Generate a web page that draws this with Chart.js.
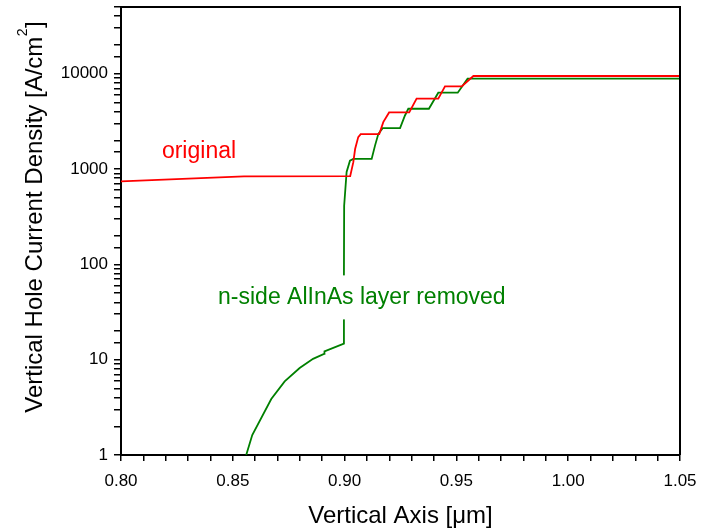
<!DOCTYPE html>
<html>
<head>
<meta charset="utf-8">
<script src="https://cdn.jsdelivr.net/npm/chart.js@4.4.1/dist/chart.umd.min.js"></script>
<style>
  html, body { margin: 0; padding: 0; background: #fff; }
  #wrap { width: 708px; height: 531px; }
</style>
</head>
<body>
<div id="wrap"><canvas id="chart" width="708" height="531"></canvas></div>
<script>
// ─── DATA ──────────────────────────────────────────────────────────
const originalX = [0.800, 0.855, 0.9025, 0.9039, 0.9047, 0.9061, 0.9072, 0.9155, 0.9173, 0.9199,
                   0.9289, 0.9322, 0.9419, 0.9449, 0.9524, 0.9576, 1.050];
const originalY = [743, 838, 842, 1180, 1620, 2160, 2320, 2320, 3100, 3920,
                   3920, 5460, 5460, 7350, 7350, 9450, 9450];

const removedX = [0.8560, 0.8587, 0.8672, 0.8732, 0.8799, 0.8859, 0.8908, 0.8910, 0.8997, 0.8997,
                  0.8998, 0.9009, 0.9024, 0.9039, 0.9121, 0.9136, 0.9151, 0.9170, 0.9248, 0.9270,
                  0.9285, 0.9377, 0.9419, 0.9506, 0.9550, 1.050];
const removedY = [1, 1.62, 3.86, 5.91, 8.18, 10.2, 11.5, 12.2, 14.7, 75,
                  411, 929, 1223, 1274, 1274, 1758, 2336, 2680, 2680, 3640,
                  4285, 4285, 6310, 6310, 8860, 8860];

const xTickLabels = [0.80, 0.85, 0.90, 0.95, 1.00, 1.05];
const yTickLabels = [1, 10, 100, 1000, 10000];

// in-plot labels, anchored in data coordinates (left edge, vertical middle)
const noteText  = ['original', 'n-side AlInAs layer removed'];
const noteX     = [0.8183, 0.8434];
const noteY     = [1510, 45];
const noteColor = ['#ff0000', '#008000'];

const FONT = "'Liberation Sans', Arial, sans-serif";
Chart.defaults.font.family = FONT;
Chart.defaults.color = '#000';

function toPoints(xs, ys) {
    return xs.map((x, i) => ({ x: x, y: ys[i] }));
}

// ─── PLUGINS ──────────────────────────────────────────────────────
const framePlugin = {
    id: 'frame',
    afterDatasetsDraw(chart) {
        const { ctx, chartArea: a } = chart;
        ctx.save();
        ctx.strokeStyle = '#000';
        ctx.lineWidth = 2;
        ctx.beginPath();
        ctx.moveTo(a.left, a.top);
        ctx.lineTo(a.right, a.top);
        ctx.lineTo(a.right, a.bottom);
        ctx.stroke();
        ctx.restore();
    }
};

const notesPlugin = {
    id: 'notes',
    afterDatasetsDraw(chart) {
        const { ctx } = chart;
        const xs = chart.scales.x, ys = chart.scales.y;
        ctx.save();
        ctx.font = '23px ' + FONT;
        ctx.textBaseline = 'middle';
        ctx.textAlign = 'left';
        noteText.forEach((t, i) => {
            const px = xs.getPixelForValue(noteX[i]);
            const py = ys.getPixelForValue(noteY[i]);
            if (i === 1) {
                // label sits on a white box that hides the curve behind it
                const w = ctx.measureText(t).width;
                ctx.fillStyle = '#fff';
                ctx.fillRect(px - 2, py - 22, w + 4, 44);
            }
            ctx.fillStyle = noteColor[i];
            ctx.fillText(t, px, py);
        });
        ctx.restore();
    }
};

const yTitlePlugin = {
    id: 'yTitle',
    afterDraw(chart) {
        const { ctx } = chart;
        const main = 'Vertical Hole Current Density [A/cm';
        ctx.save();
        ctx.fillStyle = '#000';
        ctx.textBaseline = 'alphabetic';
        ctx.textAlign = 'left';
        ctx.font = '24px ' + FONT;
        const w1 = ctx.measureText(main).width;
        ctx.font = '14px ' + FONT;
        const w2 = ctx.measureText('2').width;
        ctx.font = '24px ' + FONT;
        const w3 = ctx.measureText(']').width;
        const total = w1 + w2 + 1 + w3;
        ctx.translate(42, 217 + total / 2);
        ctx.rotate(-Math.PI / 2);
        ctx.fillText(main, 0, 0);
        ctx.font = '14px ' + FONT;
        ctx.fillText('2', w1 + 0.5, -15);
        ctx.font = '24px ' + FONT;
        ctx.fillText(']', w1 + w2 + 1, 0);
        ctx.restore();
    }
};

// ─── CHART ────────────────────────────────────────────────────────
new Chart(document.getElementById('chart'), {
    type: 'line',
    data: {
        datasets: [
            {
                label: 'original',
                data: toPoints(originalX, originalY),
                borderColor: '#ff0000',
                borderWidth: 1.8,
                pointRadius: 0,
                tension: 0
            },
            {
                label: 'n-side AlInAs layer removed',
                data: toPoints(removedX, removedY),
                borderColor: '#008000',
                borderWidth: 1.8,
                pointRadius: 0,
                tension: 0
            }
        ]
    },
    options: {
        responsive: false,
        animation: false,
        layout: { padding: { left: 0, top: 7, right: 28, bottom: 0 } },
        plugins: {
            legend: { display: false },
            tooltip: { enabled: false }
        },
        scales: {
            x: {
                type: 'linear',
                min: 0.80,
                max: 1.05,
                afterFit: s => { s.height = 76; s.paddingLeft = 0; s.paddingRight = 0; },
                grid: { drawOnChartArea: false, tickLength: 6, color: '#000', lineWidth: 1.5 },
                border: { color: '#000', width: 2 },
                ticks: {
                    stepSize: 0.01,
                    autoSkip: false,
                    maxRotation: 0,
                    padding: 10,
                    font: { size: 17 },
                    color: '#000',
                    callback: v => xTickLabels.some(t => Math.abs(t - v) < 1e-6) ? v.toFixed(2) : ''
                },
                title: {
                    display: true,
                    text: 'Vertical Axis [\u03bcm]',
                    font: { size: 24 },
                    color: '#000',
                    padding: { top: 0, bottom: 0 }
                }
            },
            y: {
                type: 'logarithmic',
                min: 1,
                max: 50000,
                afterFit: s => { s.width = 121; s.paddingTop = 0; s.paddingBottom = 0; },
                grid: { drawOnChartArea: false, tickLength: 7, color: '#000', lineWidth: 1.5 },
                border: { color: '#000', width: 2 },
                ticks: {
                    autoSkip: false,
                    padding: 6,
                    font: { size: 17 },
                    color: '#000',
                    callback: v => yTickLabels.some(t => Math.abs(t - v) < 1e-6 * t) ? String(v) : ''
                }
            }
        }
    },
    plugins: [framePlugin, notesPlugin, yTitlePlugin]
});
</script>
</body>
</html>
